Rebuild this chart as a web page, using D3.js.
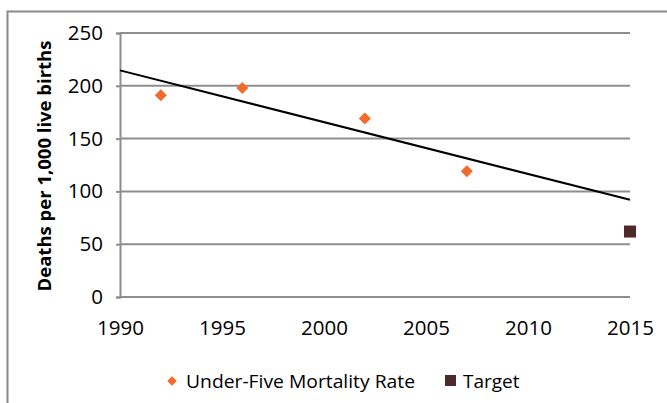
<!DOCTYPE html>
<html><head><meta charset="utf-8">
<script src="https://cdn.jsdelivr.net/npm/d3@7"></script>
<style>body{margin:0;background:#fff;}svg{display:block;}</style>
</head><body>
<svg id="c" width="667" height="403"></svg>
<script>
const years = [1992, 1996, 2002, 2007];
const mortality = [191, 198, 169, 119];
const targetYear = [2015];
const targetValue = [62];
const xTicks = [1990, 1995, 2000, 2005, 2010, 2015];
const yTicks = [0, 50, 100, 150, 200, 250];
const yTitle = "Deaths per 1,000 live births";
const legendLabels = ["Under-Five Mortality Rate", "Target"];

const svg = d3.select("#c");
const font = "'Open Sans', sans-serif";
const L = 120, R = 630, T = 33, B = 297;
const x = d3.scaleLinear().domain([1990, 2015]).range([L, R]);
const y = d3.scaleLinear().domain([0, 250]).range([B, T]);

// outer border
svg.append("rect").attr("x", 7.5).attr("y", 11.5).attr("width", 700).attr("height", 420)
  .attr("fill", "none").attr("stroke", "#8a8a8a").attr("stroke-width", 2);

// gridlines
svg.append("g").selectAll("line").data(yTicks).join("line")
  .attr("x1", L).attr("x2", R).attr("y1", d => y(d)).attr("y2", d => y(d))
  .attr("stroke", "#8e8e8e").attr("stroke-width", 2);

// y axis
const yAxis = svg.append("g").attr("transform", `translate(${L},0)`)
  .call(d3.axisLeft(y).tickValues(yTicks).tickSize(4).tickPadding(13));
yAxis.select(".domain").attr("stroke", "#8e8e8e").attr("stroke-width", 2);
yAxis.selectAll(".tick line").attr("stroke", "#8e8e8e").attr("stroke-width", 2);
yAxis.selectAll("text").attr("font-family", font).attr("font-size", 20.5).attr("fill", "#000");

// x axis labels
const xAxis = svg.append("g").attr("transform", `translate(0,${B})`)
  .call(d3.axisBottom(x).tickValues(xTicks).tickFormat(d3.format("d")).tickSize(0).tickPadding(23));
xAxis.select(".domain").remove();
xAxis.selectAll("text").attr("font-family", font).attr("font-size", 20.5).attr("fill", "#000");

// y title
svg.append("text").attr("transform", `translate(51,${(T + B) / 2 + 1}) rotate(-90)`)
  .attr("text-anchor", "middle").attr("font-family", font).attr("font-weight", "bold")
  .attr("font-size", 18.5).attr("fill", "#000").text(yTitle);

// linear trendline from data
const mx = d3.mean(years), my = d3.mean(mortality);
const slope = d3.sum(years, (v, i) => (v - mx) * (mortality[i] - my)) / d3.sum(years, v => (v - mx) ** 2);
const f = v => my + slope * (v - mx);
svg.append("line").attr("x1", x(1990)).attr("y1", y(f(1990))).attr("x2", x(2015)).attr("y2", y(f(2015)))
  .attr("stroke", "#000").attr("stroke-width", 2);

// points
svg.append("g").selectAll("path").data(years).join("path")
  .attr("transform", (d, i) => `translate(${x(d)},${y(mortality[i])}) rotate(45)`)
  .attr("d", d3.symbol().type(d3.symbolSquare).size(72)).attr("fill", "#f26b2c");

svg.append("g").selectAll("rect").data(targetYear).join("rect")
  .attr("x", d => x(d) - 6).attr("y", (d, i) => y(targetValue[i]) - 6)
  .attr("width", 12).attr("height", 12).attr("fill", "#4e2a2a");

// legend
svg.append("path").attr("transform", "translate(172,381) rotate(45)")
  .attr("d", d3.symbol().type(d3.symbolSquare).size(45)).attr("fill", "#f26b2c");
svg.append("text").attr("x", 186).attr("y", 388).attr("font-family", font).attr("font-size", 19)
  .attr("textLength", 229).attr("lengthAdjust", "spacingAndGlyphs")
  .attr("fill", "#000").text(legendLabels[0]);
svg.append("rect").attr("x", 445).attr("y", 375).attr("width", 11).attr("height", 11).attr("fill", "#4e2a2a");
svg.append("text").attr("x", 463).attr("y", 388).attr("font-family", font).attr("font-size", 19)
  .attr("fill", "#000").text(legendLabels[1]);
</script>
</body></html>
